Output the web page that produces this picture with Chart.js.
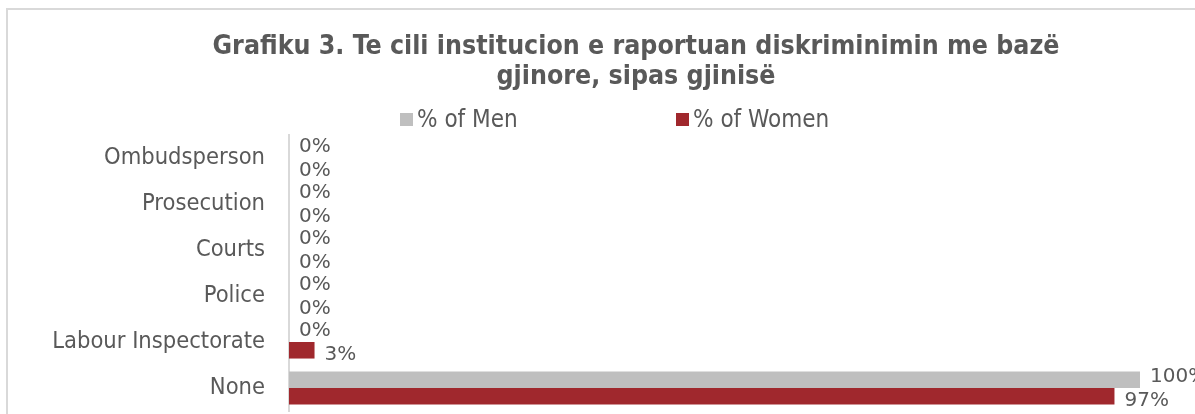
<!DOCTYPE html>
<html>
<head>
<meta charset="utf-8">
<script src="https://cdn.jsdelivr.net/npm/chart.js@4/dist/chart.umd.min.js"></script>
<style>
  body { margin: 0; background: #fff; overflow: hidden; }
  #wrap { position: relative; width: 1195px; height: 414px; overflow: hidden; }
  #frame { position: absolute; left: 6px; top: 8px; width: 1210px; height: 430px; border: 2px solid #d9d9d9; box-sizing: border-box; }
  #chart { position: absolute; left: 0; top: 0; }
  #legend { position: absolute; left: 0; top: 105px; font: 24px "DejaVu Sans Condensed", sans-serif; color: #595959; }
  .item { position: absolute; white-space: nowrap; line-height: 28px; }
  .box { display: inline-block; width: 13px; height: 13px; margin-right: 4px; vertical-align: 1px; }
</style>
</head>
<body>
<div id="wrap">
  <div id="frame"></div>
  <canvas id="chart" width="1195" height="414"></canvas>
  <div id="legend"></div>
</div>
<script>
// data
const categories = ["Ombudsperson", "Prosecution", "Courts", "Police", "Labour Inspectorate", "None"];
const menValues = [0, 0, 0, 0, 0, 100];
const womenValues = [0, 0, 0, 0, 3, 97];
const seriesNames = ["% of Men", "% of Women"];

const colors = ["#bfbfbf", "#a0282d"];
const labelShift = [-3, 5]; // excel puts the men labels a bit higher, women a bit lower
const legendX = [400, 676];

const font = '"DejaVu Sans Condensed", sans-serif';

// legend as plain html (the two items sit far apart in the original)
const legendEl = document.getElementById("legend");
seriesNames.forEach((name, i) => {
  const item = document.createElement("span");
  item.className = "item";
  item.style.left = legendX[i] + "px";
  item.innerHTML = '<span class="box" style="background:' + colors[i] + '"></span>' + name;
  legendEl.appendChild(item);
});

const barLabels = {
  id: "barLabels",
  afterLayout(chart) {
    // title in the original is centred a bit right of the canvas middle
    chart.titleBlock.left = 132;
  },
  afterDatasetsDraw(chart) {
    const ctx = chart.ctx;
    ctx.save();
    ctx.font = '20px "DejaVu Sans", sans-serif';
    ctx.fillStyle = "#595959";
    ctx.textBaseline = "middle";
    chart.data.datasets.forEach((ds, di) => {
      chart.getDatasetMeta(di).data.forEach((bar, i) => {
        ctx.fillText(ds.data[i] + "%", bar.x + 10, bar.y + labelShift[di]);
      });
    });
    ctx.restore();
  }
};

new Chart(document.getElementById("chart"), {
  type: "bar",
  data: {
    labels: categories,
    datasets: [
      { label: seriesNames[0], data: menValues, backgroundColor: colors[0] },
      { label: seriesNames[1], data: womenValues, backgroundColor: colors[1] }
    ]
  },
  options: {
    indexAxis: "y",
    responsive: false,
    animation: false,
    categoryPercentage: 0.72,
    barPercentage: 1,
    layout: { padding: { top: 32, right: 55, bottom: 3, left: 0 } },
    plugins: {
      legend: { display: false },
      tooltip: { enabled: false },
      title: {
        display: true,
        text: ["Grafiku 3. Te cili institucion e raportuan diskriminimin me bazë", "gjinore, sipas gjinisë"],
        color: "#595959",
        font: { family: font, size: 26.5, weight: "bold", lineHeight: 1.13 },
        padding: { top: 0, bottom: 43 }
      }
    },
    scales: {
      x: { display: false, min: 0, max: 100 },
      y: {
        grid: { display: false, drawTicks: false },
        border: { display: true, color: "#d9d9d9", width: 2 },
        ticks: { color: "#595959", font: { family: font, size: 23.5 }, padding: 24 },
        // keep the plot area where the original has it
        afterFit(scale) { scale.width = 289; scale.paddingTop = 0; scale.paddingBottom = 0; }
      }
    }
  },
  plugins: [barLabels]
});
</script>
</body>
</html>
